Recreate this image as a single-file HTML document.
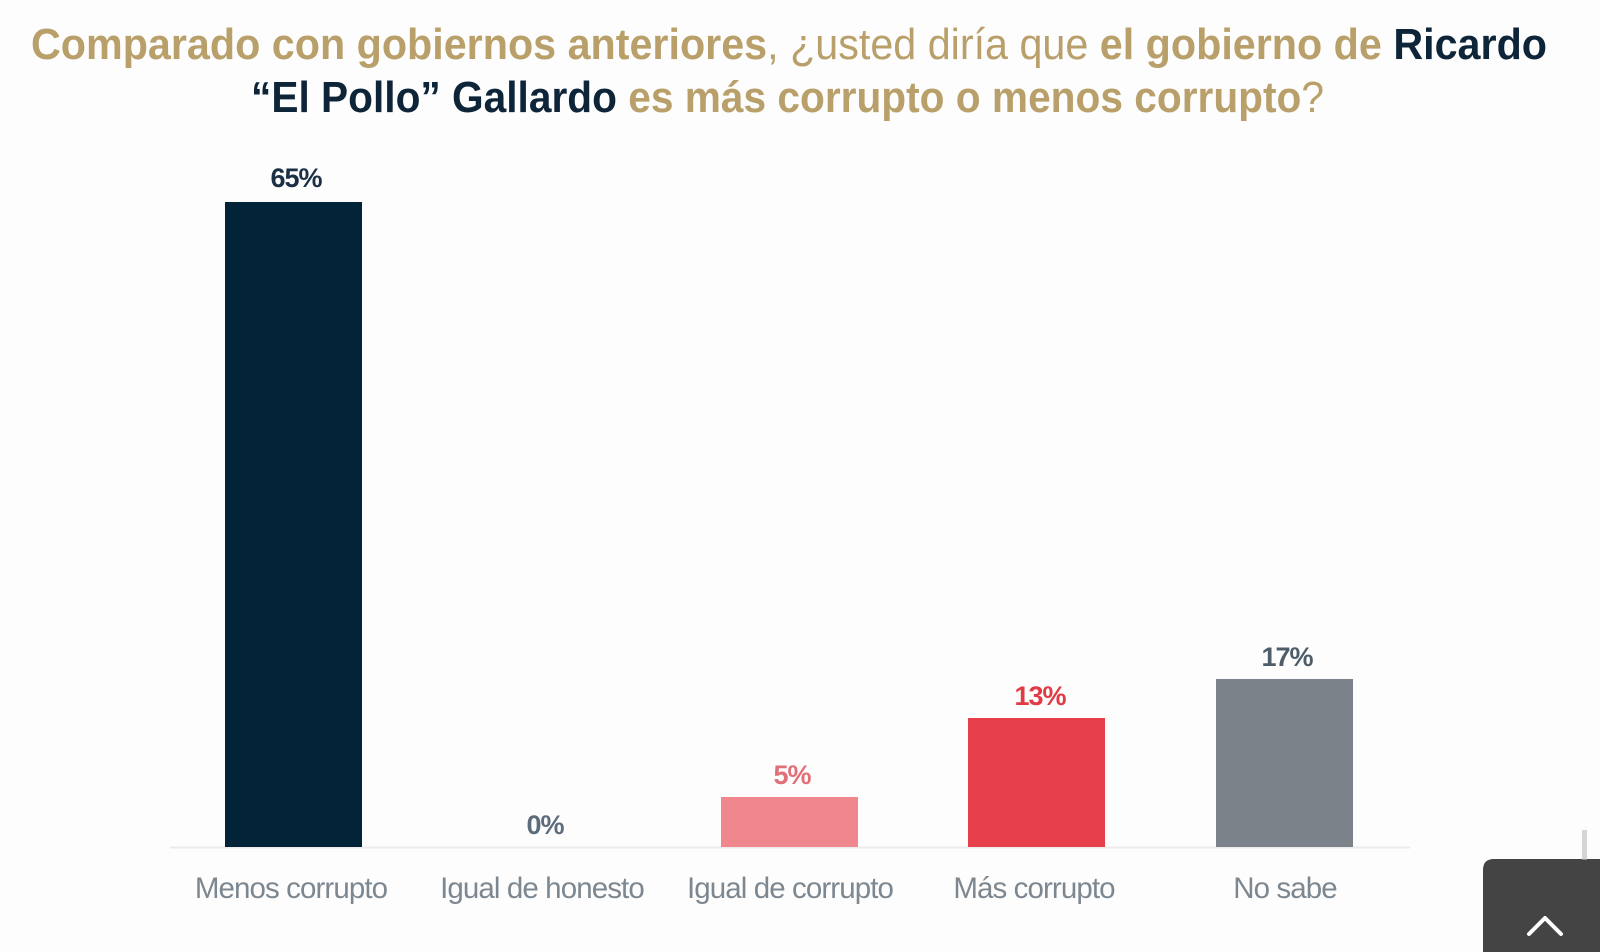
<!DOCTYPE html>
<html><head><meta charset="utf-8"><style>
html,body{margin:0;padding:0;background:#fdfdfd;width:1600px;height:952px;overflow:hidden}
svg{display:block}
</style></head><body>
<svg width="1600" height="952" viewBox="0 0 1600 952" xmlns="http://www.w3.org/2000/svg">
<rect width="1600" height="952" fill="#fdfdfd"/>
<g font-family="'Liberation Sans Narrow','Liberation Sans',sans-serif" font-size="44" font-weight="bold">
<text x="31" y="59" textLength="1516" lengthAdjust="spacingAndGlyphs"><tspan fill="#b9a06a">Comparado con gobiernos anteriores</tspan><tspan fill="#b9a06a" font-weight="normal">, ¿usted diría que </tspan><tspan fill="#b9a06a">el gobierno de </tspan><tspan fill="#0e2438">Ricardo</tspan></text>
<text x="251" y="112" textLength="1073" lengthAdjust="spacingAndGlyphs"><tspan fill="#0e2438">“El Pollo” Gallardo </tspan><tspan fill="#b9a06a">es más corrupto o menos corrupto</tspan><tspan fill="#b9a06a" font-weight="normal">?</tspan></text>
</g>
<line x1="170" y1="847.5" x2="1410" y2="847.5" stroke="#ececec" stroke-width="2"/>
<rect x="225" y="202" width="137" height="645" fill="#022338"/>
<rect x="721" y="797" width="137" height="50" fill="#f0868e"/>
<rect x="968" y="718" width="137" height="129" fill="#e8404a"/>
<rect x="1216" y="679" width="137" height="168" fill="#7b8289"/>
<g font-family="'Liberation Sans',sans-serif" font-size="27" font-weight="bold" text-anchor="middle" letter-spacing="-1">
<text x="296" y="187" fill="#1c3045">65%</text>
<text x="545" y="834" fill="#5d6c7c">0%</text>
<text x="792" y="784" fill="#e26f78">5%</text>
<text x="1040" y="705" fill="#e03a45">13%</text>
<text x="1287" y="666" fill="#4f5d6b">17%</text>
</g>
<g font-family="'Liberation Sans',sans-serif" font-size="29.5" fill="#7d8790" text-anchor="middle" letter-spacing="-0.9">
<text x="291" y="898">Menos corrupto</text>
<text x="542" y="898">Igual de honesto</text>
<text x="790" y="898">Igual de corrupto</text>
<text x="1034" y="898">Más corrupto</text>
<text x="1285" y="898">No sabe</text>
</g>
<path d="M1483 952 V870 Q1483 859 1494 859 H1600 V952 Z" fill="#444"/>
<rect x="1582" y="830" width="5" height="30" fill="#bbb" opacity="0.6"/>
<polyline points="1529,934 1545,918 1561,934" fill="none" stroke="#fff" stroke-width="4" stroke-linecap="round" stroke-linejoin="round"/>
</svg>
</body></html>
